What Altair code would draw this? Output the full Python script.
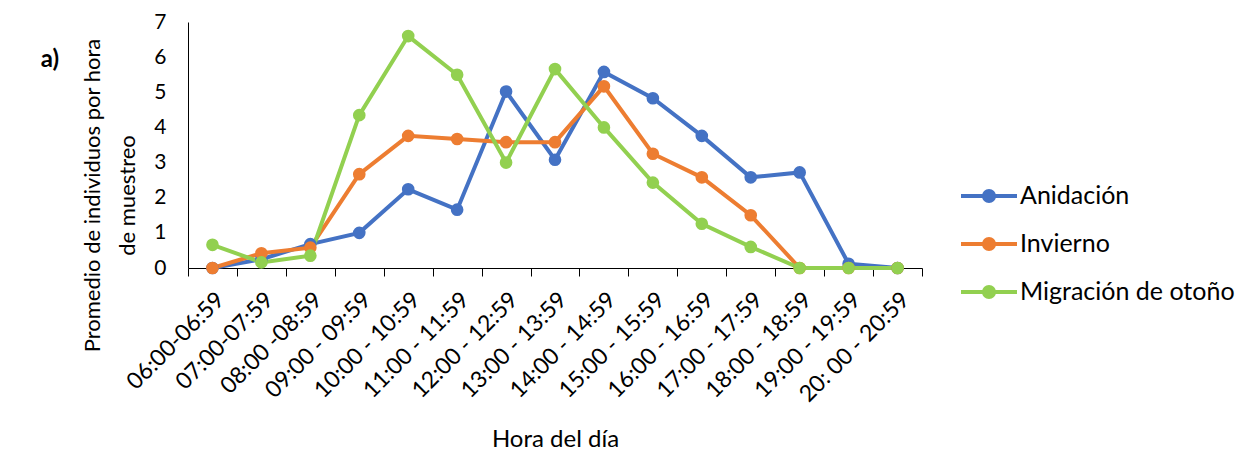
import altair as alt
import pandas as pd

horas = ["06:00-06:59", "07:00-07:59", "08:00 -08:59", "09:00 - 09:59", "10:00 - 10:59",
         "11:00 - 11:59", "12:00 - 12:59", "13:00 - 13:59", "14:00 - 14:59", "15:00 - 15:59",
         "16:00 - 16:59", "17:00 - 17:59", "18:00 - 18:59", "19:00 - 19:59", "20: 00 - 20:59"]
anidacion = [0, 0.25, 0.68, 1.0, 2.24, 1.66, 5.02, 3.08, 5.58, 4.83, 3.76, 2.58, 2.72, 0.12, 0]
invierno = [0, 0.42, 0.58, 2.67, 3.76, 3.67, 3.58, 3.58, 5.17, 3.25, 2.58, 1.5, 0, 0, 0]
migracion = [0.66, 0.16, 0.35, 4.35, 6.6, 5.5, 3.0, 5.66, 4.0, 2.43, 1.26, 0.6, 0, 0, 0]
series = ["Anidación", "Invierno", "Migración de otoño"]
colores = ["#4472C4", "#ED7D31", "#92D050"]

rows = []
for name, vals in zip(series, [anidacion, invierno, migracion]):
    for h, v in zip(horas, vals):
        rows.append({"hora": h, "valor": v, "serie": name})
df = pd.DataFrame(rows)

FONT = "Lato"
legend_path = ("M-1,0H1M-0.18,0A0.18,0.18 0 1,1 0.18,0A0.18,0.18 0 1,1 -0.18,0"
               "M-0.09,0A0.09,0.09 0 1,1 0.09,0A0.09,0.09 0 1,1 -0.09,0")

lines = alt.Chart(df).mark_line(
    strokeWidth=4,
    point=alt.OverlayMarkDef(filled=True, size=160, opacity=1),
).encode(
    x=alt.X("hora:N", sort=horas, bandPosition=0.5,
            scale=alt.Scale(type="band", paddingInner=0, paddingOuter=0),
            axis=alt.Axis(title="Hora del día", labelAngle=-45, tickBand="extent",
                          tickSize=8, tickColor="black", domainColor="black",
                          labelFontSize=23, labelColor="black", labelPadding=12,
                          titleFontSize=24, titleFontWeight="normal", titleColor="black",
                          titlePadding=21, grid=False, labelFont=FONT, titleFont=FONT,
                          labelLimit=300)),
    y=alt.Y("valor:Q", scale=alt.Scale(domain=[0, 7], nice=False),
            axis=alt.Axis(title=["Promedio de individuos por hora", "de muestreo"],
                          values=[0, 1, 2, 3, 4, 5, 6, 7], ticks=False, grid=False,
                          domainColor="black", labelFontSize=21, labelColor="black",
                          labelPadding=22, titleFontSize=22, titleFontWeight="normal",
                          titleColor="black", titlePadding=14, titleLineHeight=35,
                          titleY=173, titleLimit=600, labelFont=FONT, titleFont=FONT)),
    color=alt.Color("serie:N", sort=series,
                    scale=alt.Scale(domain=series, range=colores),
                    legend=alt.Legend(title=None, orient="none", legendX=771, legendY=144,
                                      symbolType=legend_path, symbolSize=3136,
                                      symbolStrokeWidth=4, labelFontSize=25,
                                      labelFont=FONT, labelColor="black",
                                      labelOffset=1, rowPadding=4, labelLimit=400)),
)

etiqueta = alt.Chart(pd.DataFrame({"t": ["a)"]})).mark_text(
    fontSize=24, fontWeight="bold", font=FONT, color="black", align="center", baseline="middle"
).encode(x=alt.value(-138), y=alt.value(38), text="t:N")

chart = alt.layer(lines, etiqueta).properties(
    width=734, height=246,
    autosize=alt.AutoSizeParams(type="none"),
    padding={"left": 180, "top": 14, "right": 326, "bottom": 185},
).configure_view(stroke=None)

chart.save("out.html", embed_options={"renderer": "svg", "actions": False})
